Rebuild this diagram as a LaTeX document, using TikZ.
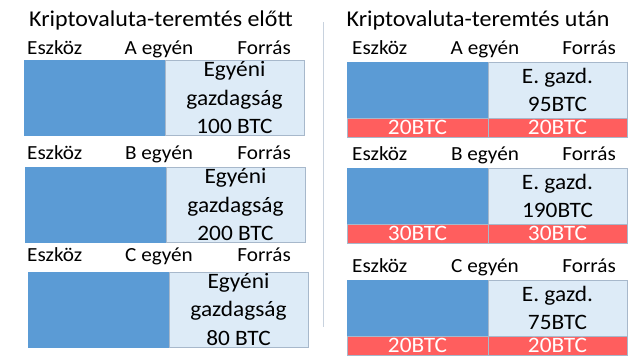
\documentclass[tikz,border=0pt]{standalone}
\usepackage{fontspec}
\setmainfont{Carlito}[FakeStretch=1.06]
\usetikzlibrary{positioning}
\definecolor{asset}{HTML}{5B9BD5}
\definecolor{wealth}{HTML}{DDEBF7}
\definecolor{frame}{HTML}{A7B8CB}
\definecolor{minted}{HTML}{FF5E5E}
\definecolor{rulegray}{HTML}{C8D2DE}
\tikzset{
  head/.style={font=\fontsize{22.6}{26}\selectfont,anchor=base,inner sep=0},
  lbl/.style={font=\fontsize{20}{22}\selectfont,anchor=base,inner sep=0},
  assetbox/.style={fill=asset,draw=asset,inner sep=0,outer sep=0},
  wealthbox/.style={fill=wealth,draw=frame,inner sep=0,outer sep=0,align=center,
    font=\fontsize{22}{28.5}\selectfont},
  mintbox/.style={fill=minted,draw=frame,inner sep=0,outer sep=0,text=white,
    minimum height=19,font=\fontsize{22}{24}\selectfont}
}

\begin{document}
\begin{tikzpicture}[x=1pt,y=-1pt]
\useasboundingbox (0,0) rectangle (640,360);

% before
\node[head] (tbefore) at (161,26) {Kriptovaluta-teremtés előtt};
\foreach \who/\top/\xl/\lab/\amt in {A/60/24/54/100,B/167/25/159/200,C/272/28/261/80}{
  \node[lbl,anchor=base west] (Le\who) at (27,\lab) {Eszköz};
  \node[lbl] (Ln\who) at (159,\lab) {\who{} egyén};
  \node[lbl,anchor=base east] (Lf\who) at (291,\lab) {Forrás};
  \node[assetbox,anchor=north west,minimum width=141,minimum height=75] (La\who) at (\xl,\top) {};
  \node[wealthbox,minimum width=139,minimum height=75,right=0pt of La\who] (Lw\who)
    {Egyéni\\gazdagság\\\amt{} BTC};
}

% divider
\coordinate (rtop) at (323,22);
\coordinate (rbot) at (323,327);
\draw[rulegray,line width=0.8pt] (rtop) -- (rbot);

% after
\node[head] (tafter) at (478,26) {Kriptovaluta-teremtés után};
\foreach \who/\top/\lab/\gaz/\mint in {A/62/54/95/20,B/168/160/190/30,C/280/272/75/20}{
  \node[lbl,anchor=base west] (Re\who) at (352,\lab) {Eszköz};
  \node[lbl] (Rn\who) at (485,\lab) {\who{} egyén};
  \node[lbl,anchor=base east] (Rf\who) at (616,\lab) {Forrás};
  \node[assetbox,anchor=north west,minimum width=141,minimum height=56] (Ra\who) at (347,\top) {};
  \node[wealthbox,minimum width=139,minimum height=56,right=0pt of Ra\who] (Rw\who)
    {E. gazd.\\\gaz BTC};
  \node[mintbox,minimum width=141,below=0pt of Ra\who] (Rm\who) {\mint BTC};
  \node[mintbox,minimum width=139,below=0pt of Rw\who] (Rk\who) {\mint BTC};
}
\end{tikzpicture}
\end{document}
